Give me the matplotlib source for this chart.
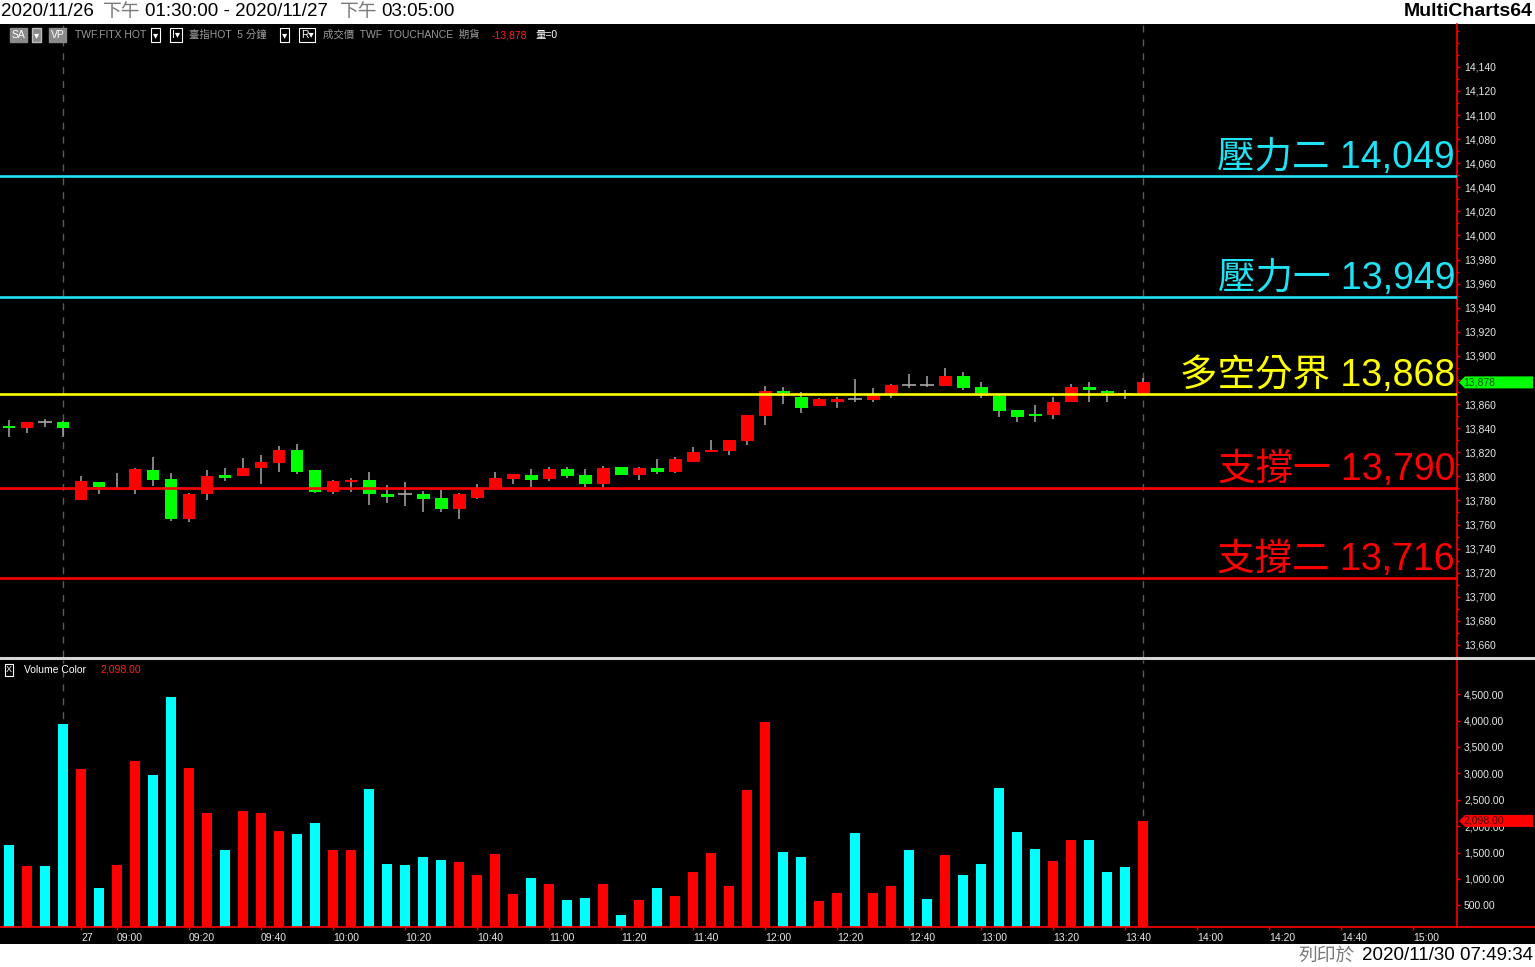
import matplotlib
matplotlib.use('Agg')
import matplotlib.pyplot as plt
from matplotlib.lines import Line2D
from matplotlib.patches import Polygon
import numpy as np

# ---------------- data ----------------
opens = [13842, 13840, 13845, 13845, 13780, 13795, 13789, 13789, 13805, 13798,
         13765, 13785, 13801, 13800, 13807, 13811, 13822, 13805, 13787, 13795,
         13797, 13785, 13785, 13785, 13782, 13773, 13782, 13790, 13798, 13801,
         13798, 13806, 13801, 13794, 13808, 13801, 13807, 13804, 13812, 13820,
         13821, 13829, 13850, 13871, 13866, 13858, 13862, 13864, 13863, 13869,
         13876, 13876, 13875, 13883, 13874, 13867, 13855, 13852, 13851, 13862,
         13874, 13871, 13868, 13868]
highs = [13847, 13845, 13848, 13846, 13800, 13795, 13803, 13807, 13816, 13803,
         13786, 13805, 13807, 13815, 13818, 13825, 13827, 13805, 13797, 13799,
         13804, 13793, 13795, 13788, 13789, 13786, 13794, 13804, 13802, 13806,
         13808, 13808, 13806, 13809, 13808, 13808, 13814, 13816, 13824, 13830,
         13830, 13851, 13875, 13874, 13870, 13865, 13866, 13881, 13873, 13877,
         13885, 13883, 13890, 13887, 13878, 13868, 13855, 13859, 13866, 13877,
         13878, 13872, 13872, 13882]
lows = [13833, 13836, 13841, 13833, 13780, 13785, 13789, 13785, 13792, 13763,
        13762, 13780, 13796, 13800, 13794, 13804, 13802, 13786, 13785, 13787,
        13776, 13778, 13775, 13770, 13770, 13765, 13781, 13790, 13794, 13791,
        13796, 13799, 13791, 13791, 13801, 13797, 13802, 13803, 13812, 13820,
        13818, 13826, 13843, 13860, 13853, 13858, 13857, 13862, 13862, 13865,
        13873, 13874, 13875, 13872, 13865, 13849, 13845, 13845, 13848, 13862,
        13862, 13862, 13864, 13868]
closes = [13840, 13845, 13845, 13840, 13796, 13791, 13790, 13806, 13797, 13765,
          13785, 13800, 13799, 13807, 13812, 13822, 13804, 13787, 13796, 13797,
          13785, 13783, 13785, 13781, 13773, 13785, 13790, 13799, 13802, 13797,
          13806, 13800, 13794, 13807, 13801, 13807, 13804, 13814, 13820, 13822,
          13830, 13851, 13871, 13869, 13857, 13864, 13864, 13864, 13868, 13876,
          13876, 13876, 13883, 13873, 13869, 13854, 13849, 13850, 13862, 13874,
          13872, 13869, 13868, 13878]
volumes = [1642, 1244, 1244, 3934, 3081, 828, 1263, 3233, 2968, 4445,
           3100, 2248, 1547, 2286, 2248, 1907, 1850, 2058, 1547, 1547,
           2703, 1282, 1263, 1415, 1358, 1320, 1074, 1471, 716, 1017,
           903, 600, 638, 903, 316, 600, 828, 676, 1130, 1490,
           866, 2684, 3968, 1509, 1415, 581, 733, 1869, 733, 866,
           1547, 619, 1452, 1074, 1282, 2722, 1888, 1566, 1339, 1737,
           1737, 1130, 1225, 2098]

time_labels = ['27', '09:00', '09:20', '09:40', '10:00', '10:20', '10:40', '11:00',
               '11:20', '11:40', '12:00', '12:20', '12:40', '13:00', '13:20', '13:40',
               '14:00', '14:20', '14:40', '15:00']
session_breaks = [3, 63]

level_names = ['壓力二', '壓力一', '多空分界', '支撐一', '支撐二']
level_values = [14049, 13949, 13868, 13790, 13716]

price_ticks = list(range(13660, 14141, 20))
volume_ticks = list(range(500, 4501, 500))

# ---------------- style ----------------
W, H = 1535, 967
FONT = ['Liberation Sans', 'Noto Sans CJK TC', 'DejaVu Sans']
plt.rcParams['font.family'] = FONT
UP, DOWN, WICK = '#ff0000', '#00ff00', '#a8a8a8'
VUP, VDOWN = '#ff0000', '#00ffff'
level_colors = ['#1fe3f4', '#1fe3f4', '#ffff00', '#ff0000', '#ff0000']
AXTXT = '#e8e8e8'

fig = plt.figure(figsize=(W / 100, H / 100), dpi=100, facecolor='white')


def rect(x0, y0, x1, y1):
    return [x0 / W, 1 - y1 / H, (x1 - x0) / W, (y1 - y0) / H]


def fx(px):
    return px / W


def fy(py):
    return 1 - py / H


bg = fig.add_axes(rect(0, 24, W, 944))
bg.set_facecolor('black')
bg.set_xticks([]); bg.set_yticks([])
for s in bg.spines.values():
    s.set_visible(False)
bg.set_zorder(0)

ax = fig.add_axes(rect(0, 24, 1457, 657))
vax = fig.add_axes(rect(0, 660, 1457, 927))
for a in (ax, vax):
    a.set_facecolor('none')
    a.set_zorder(1)
    for k, s in a.spines.items():
        s.set_visible(False)
    a.spines['right'].set_visible(True)
    a.spines['right'].set_color('red')
    a.spines['right'].set_linewidth(1.2)

n = len(opens)
x = np.arange(n)
o = np.array(opens); c = np.array(closes); h = np.array(highs); l = np.array(lows)

XMAX = 80.44
ax.set_xlim(-0.5, XMAX)
ax.set_ylim(13650.9, 14175.6)
vax.set_xlim(-0.5, XMAX)
vax.set_ylim(89, 5146)

# candles
ax.vlines(x, l, h, color=WICK, lw=1.1, zorder=2)
doji = o == c
ax.hlines(o[doji], x[doji] - 0.38, x[doji] + 0.38, color=WICK, lw=1.2, zorder=3)
body = ~doji
bcol = np.where(c[body] > o[body], UP, DOWN)
ax.bar(x[body], np.abs(c[body] - o[body]), bottom=np.minimum(o[body], c[body]),
       width=0.72, color=bcol, zorder=3, linewidth=0)

# level lines & labels
for name, val, col in zip(level_names, level_values, level_colors):
    ax.axhline(val, color=col, lw=1.9, zorder=4)
    ax.annotate(f'{name} {val:,}', xy=(1, val), xycoords=ax.get_yaxis_transform(),
                xytext=(-2, 8), textcoords='offset pixels', ha='right', va='baseline',
                fontsize=27, color=col, zorder=5)

# session separators
for a in (ax, vax):
    for b in session_breaks:
        a.axvline(b, color='#5a5a5a', lw=1, ls=(0, (5, 5)), zorder=1.5)

# price axis
ax.yaxis.tick_right()
ax.set_yticks(price_ticks)
ax.set_yticklabels([f'{v:,}' for v in price_ticks])
ax.set_yticks(list(range(13650, 14171, 10)), minor=True)
ax.tick_params(axis='y', which='major', colors='red', labelcolor=AXTXT, labelsize=7.5,
               length=2.5, width=1, pad=2.5)
ax.tick_params(axis='y', which='minor', colors='red', length=1.5, width=1)
ax.set_xticks([])

# volume bars
vcol = np.where(c > o, VUP, VDOWN)
vax.bar(x, volumes, width=0.6, color=vcol, linewidth=0, zorder=2)
vax.yaxis.tick_right()
vax.set_yticks(volume_ticks)
vax.set_yticklabels([f'{v:,.2f}' for v in volume_ticks])
vax.tick_params(axis='y', colors='red', labelcolor=AXTXT, labelsize=7.5,
                length=2.5, width=1, pad=2.5)
tick_pos = [4] + [6 + 4 * k for k in range(len(time_labels) - 1)]
vax.set_xticks(tick_pos)
vax.set_xticklabels(time_labels)
for t in vax.get_xticklabels():
    t.set_ha('left')
vax.tick_params(axis='x', colors='red', labelcolor=AXTXT, labelsize=7.5,
                length=2, width=1, pad=2)

# current value markers
ppx = (ax.get_ylim()[1] - ax.get_ylim()[0]) / (657 - 24)
vpx = (vax.get_ylim()[1] - vax.get_ylim()[0]) / (927 - 660)


def marker(a, val, per_px, fc, tc, label):
    hh = 6 * per_px
    x0, x1, x2 = 1 + 2 / 1457, 1 + 8 / 1457, 1 + 76 / 1457
    poly = Polygon([(x0, val), (x1, val + hh), (x2, val + hh), (x2, val - hh), (x1, val - hh)],
                   closed=True, transform=a.get_yaxis_transform(), clip_on=False,
                   fc=fc, ec='none', zorder=6)
    a.add_patch(poly)
    a.text(1 + 6 / 1457, val, label, transform=a.get_yaxis_transform(), fontsize=7.5,
           color=tc, va='center', ha='left', clip_on=False, zorder=7)


marker(ax, closes[-1], ppx, '#00ff00', '#0b4a0b', f'{closes[-1]:,}')
marker(vax, volumes[-1], vpx, '#ff0000', '#4a0000', f'{volumes[-1]:,.2f}')

# separator & baseline extension
fig.add_artist(Line2D([0, 1], [fy(658.3)] * 2, transform=fig.transFigure, color='#d4d4d4', lw=2.2))
fig.add_artist(Line2D([fx(1457), 1], [fy(927)] * 2, transform=fig.transFigure, color='red', lw=1.2))
vax.spines['bottom'].set_visible(True)
vax.spines['bottom'].set_color('red')
vax.spines['bottom'].set_linewidth(1.2)

# title bar
ty = fy(12)
for px, s, col in [(1, '2020/11/26', 'black'), (103, '下午', '#7a7a7a'),
                   (145, '01:30:00 - 2020/11/27', 'black'), (340, '下午', '#7a7a7a'),
                   (381, '03:05:00', 'black')]:
    fig.text(fx(px), ty, s, fontsize=13.5, color=col, va='center', ha='left')
fig.text(fx(1533), ty, 'MultiCharts64', fontsize=14, color='black', weight='bold',
         va='center', ha='right')

# footer
fy2 = fy(956)
fig.text(fx(1299), fy2, '列印於', fontsize=13.5, color='#7a7a7a', va='center', ha='left')
fig.text(fx(1533), fy2, '2020/11/30 07:49:34', fontsize=13.5, color='black', va='center', ha='right')

# chart header row
hy = fy(35)
GRAY = '#9a9a9a'
fig.text(fx(12), hy, 'SA', fontsize=7.5, color='white', va='center',
         bbox=dict(boxstyle='square,pad=0.15', fc='#8a8a8a', ec='#8a8a8a'))
fig.text(fx(34), hy, '▾', fontsize=7.5, color='white', va='center',
         bbox=dict(boxstyle='square,pad=0.15', fc='#8a8a8a', ec='#bdbdbd'))
fig.text(fx(51), hy, 'VP', fontsize=7.5, color='white', va='center',
         bbox=dict(boxstyle='square,pad=0.15', fc='#8a8a8a', ec='#8a8a8a'))
fig.text(fx(75), hy, 'TWF.FITX HOT', fontsize=7.5, color=GRAY, va='center')
for px, s in [(153, '▾'), (172, 'I▾'), (282, '▾'), (301, 'R▾')]:
    fig.text(fx(px), hy, s, fontsize=7.5, color='white', va='center',
             bbox=dict(boxstyle='square,pad=0.15', fc='black', ec='white', lw=0.8))
fig.text(fx(189), hy, '臺指HOT  5 分鐘', fontsize=7.5, color=GRAY, va='center')
fig.text(fx(323), hy, '成交價  TWF  TOUCHANCE  期貨', fontsize=7.5, color=GRAY, va='center')
fig.text(fx(492), hy, f'-{closes[-1]:,}', fontsize=7.5, color='#ff2020', va='center')
fig.text(fx(536), hy, '量=0', fontsize=7.5, color='white', va='center')

# volume header row
vy = fy(670)
fig.text(fx(6), vy, 'X', fontsize=6.5, color='white', va='center',
         bbox=dict(boxstyle='square,pad=0.15', fc='black', ec='white', lw=0.8))
fig.text(fx(24), vy, 'Volume Color', fontsize=7.5, color='white', va='center')
fig.text(fx(100), vy, f'{volumes[-1]:,.2f}', fontsize=7.5, color='#ff2020', va='center')

fig.savefig('out.png', dpi=100, facecolor='white')
